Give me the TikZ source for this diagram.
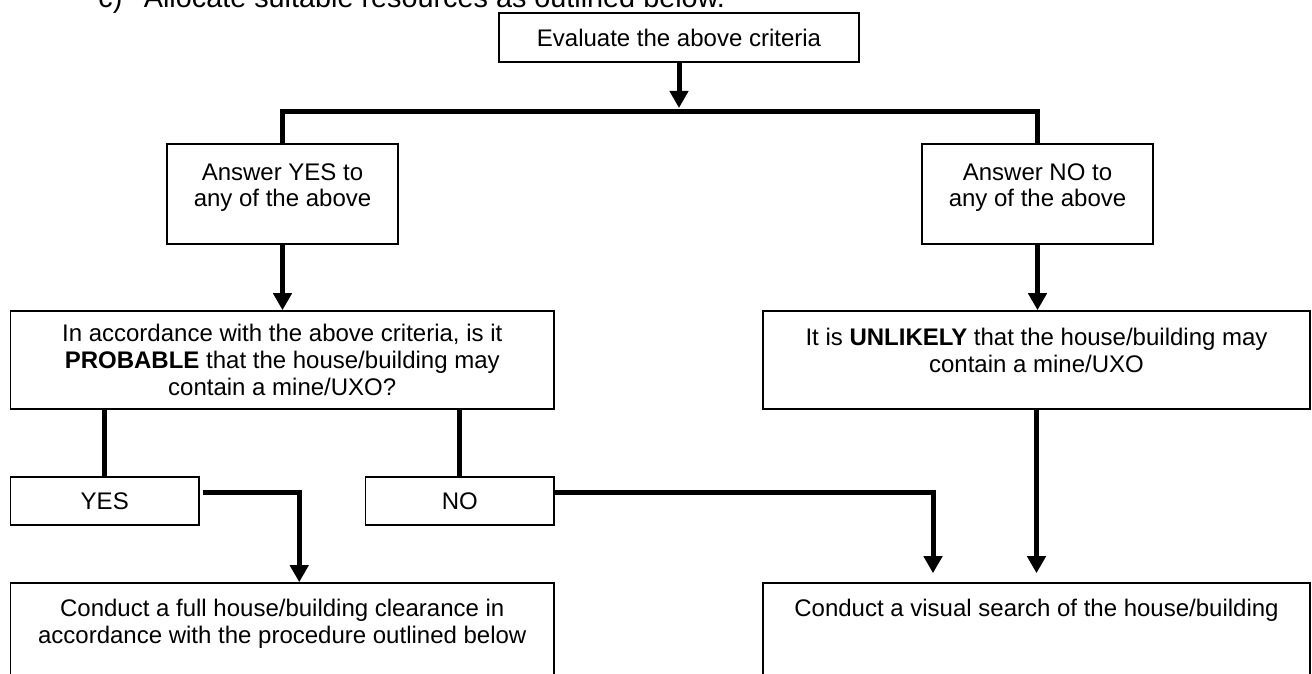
\documentclass[tikz,border=0pt]{standalone}
\usepackage{fontspec}
\setmainfont{Liberation Sans}
\usepackage{tikz}
\usetikzlibrary{arrows.meta, positioning, calc}
\tikzset{
  block/.style = {draw, line width=0.8pt, align=center, inner sep=0pt},
  arrow/.style = {-{Triangle[width=9pt,length=8.5pt]}, line width=2.5pt},
  link/.style = {line width=2.5pt}
}

\begin{document}
\begin{tikzpicture}[x=0.5pt, y=-0.5pt]
  \tikzset{
    boxText/.style={font=\fontsize{12}{13.3}\selectfont, align=center, inner sep=0pt},
    headText/.style={font=\fontsize{14.4}{17}\selectfont, anchor=base west, inner sep=0pt}
  }

  \useasboundingbox (0,0) rectangle (1312,674);
  \clip (0,0) rectangle (1312,674);

  \node[headText] (head) at (98,8) {c)\hspace{10.75pt}Allocate suitable resources as outlined below.};

  % boxes
  \node[block, boxText, minimum width=180pt, minimum height=24.5pt] (eval) at (679,37.5) {Evaluate the above criteria};
  \node[block, minimum width=115.5pt, minimum height=50pt] (ansYes) at (282.5,194) {};
  \node[block, minimum width=115.5pt, minimum height=50pt] (ansNo) at (1037.5,194) {};
  \node[block, boxText, minimum width=271.75pt, minimum height=49pt] (probable) at (282.25,360)
    {In accordance with the above criteria, is it\\ \textbf{PROBABLE} that the house/building may\\ contain a mine/UXO?};
  \node[block, minimum width=273.5pt, minimum height=49pt] (unlikely) at (1036.5,360) {};
  \node[block, boxText, minimum width=94.25pt, minimum height=24pt] (yesBox) at (104.75,501) {YES};
  \node[block, boxText, minimum width=94.25pt, minimum height=24pt] (noBox) at (459.85,501) {NO};
  \node[block, minimum width=271.75pt, minimum height=70pt] (fullClear) at (282.25,653) {};
  \node[block, minimum width=273.5pt, minimum height=70pt] (visualSearch) at (1036.5,653) {};

  % texts
  \node[boxText, below=10pt of ansYes.north] (ansYesText) {Answer YES to\\any of the above};
  \node[boxText, below=10pt of ansNo.north] (ansNoText) {Answer NO to\\any of the above};
  \node[boxText, below=9pt of unlikely.north] (unlikelyText)
    {It is \textbf{UNLIKELY} that the house/building may\\contain a mine/UXO};
  \node[boxText, below=8.5pt of fullClear.north] (fullClearText)
    {Conduct a full house/building clearance in\\accordance with the procedure outlined below};
  \node[boxText, below=8.5pt of visualSearch.north] (visualSearchText)
    {Conduct a visual search of the house/building};

  % connectors
  \coordinate (split) at (679,112);
  \draw[arrow, shorten >=2pt] (eval) -- (split);
  \draw[link] (ansYes.north) |- (split) -| (ansNo.north);
  \draw[arrow] (ansYes.south) -- (ansYes.south |- probable.north);
  \draw[arrow] (ansNo.south) -- (ansNo.south |- unlikely.north);
  \draw[link] (probable.south -| yesBox.north) -- (yesBox.north);
  \draw[link] (probable.south -| noBox.north) -- (noBox.north);
  \draw[arrow, shorten <=1.5pt] ([yshift=4.5pt]yesBox.east) -| ([xshift=8.5pt]fullClear.north);
  \draw[arrow, shorten >=4.5pt] ([yshift=4.5pt]noBox.east) -| ([xshift=-51.75pt]visualSearch.north);
  \draw[arrow, shorten >=4.5pt] (unlikely.south) -- (visualSearch.north);
\end{tikzpicture}
\end{document}
